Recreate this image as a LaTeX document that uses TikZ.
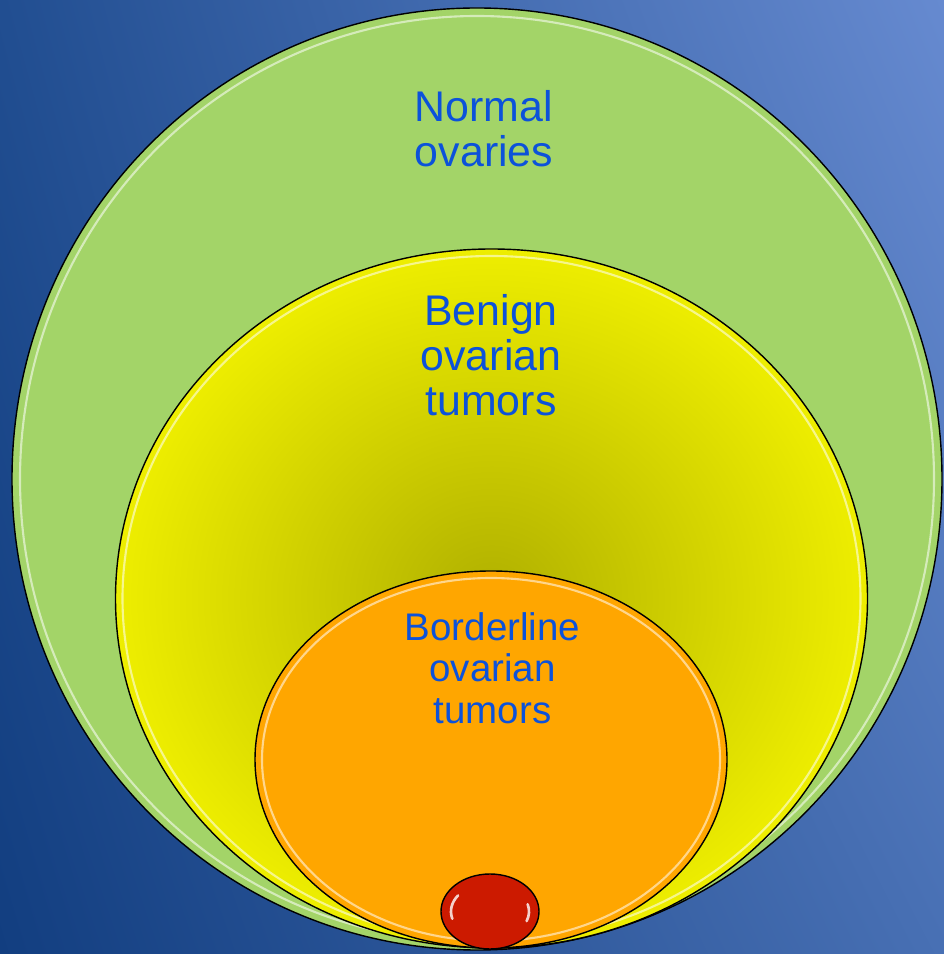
\documentclass[tikz,border=0pt]{standalone}
\usepackage{fontspec}
\setmainfont{Liberation Sans}
\usetikzlibrary{shapes.geometric,shadings}

\definecolor{bgUL}{RGB}{33,78,145}
\definecolor{bgUR}{RGB}{102,138,208}
\definecolor{bgLL}{RGB}{18,62,128}
\definecolor{bgLR}{RGB}{72,112,180}
\definecolor{normalgreen}{RGB}{163,212,104}
\definecolor{benignyellow}{RGB}{238,238,0}
\definecolor{benigndark}{RGB}{176,176,0}
\definecolor{borderorange}{RGB}{255,166,0}
\definecolor{malignred}{RGB}{204,26,0}
\definecolor{labelblue}{RGB}{12,82,218}

\begin{document}
\begin{tikzpicture}[
    zone/.style={draw=black, ellipse, line width=0.8pt, inner sep=0pt, outer sep=0pt},
    rim/.style={draw=white, ellipse, line width=1.2pt, draw opacity=0.55, inner sep=0pt},
    lbl/.style={text=labelblue, align=center, inner sep=0pt, anchor=north}]

% background
\useasboundingbox (0,0) rectangle (18.88,19.08);
\shade[upper left=bgUL, upper right=bgUR, lower left=bgLL, lower right=bgLR]
    (0,0) rectangle (18.88,19.08);

% Normal ovaries
\node[zone, fill=normalgreen, minimum width=18.6cm, minimum height=18.84cm] (normal) at (9.54,9.50) {};
\node[rim, minimum width=18.28cm, minimum height=18.52cm] (normalrim) at (normal.center) {};

% Benign ovarian tumors
\node[zone, inner color=benigndark, outer color=benignyellow, minimum width=15.04cm, minimum height=13.98cm] (benign) at (9.83,7.11) {};
\node[rim, minimum width=14.76cm, minimum height=13.70cm] (benignrim) at (benign.center) {};

% Borderline ovarian tumors
\node[zone, fill=borderorange, minimum width=9.44cm, minimum height=7.54cm] (borderline) at (9.82,3.89) {};
\node[rim, minimum width=9.16cm, minimum height=7.26cm] (borderlinerim) at (borderline.center) {};

% malignant core
\node[zone, fill=malignred, minimum width=1.96cm, minimum height=1.5cm] (malign) at (9.80,0.85) {};
\draw[white, line width=1.5pt, line cap=round, opacity=0.8]
    ([shift={(145:0.78 and 0.56)}]malign.center) arc[start angle=145, end angle=195, x radius=0.78, y radius=0.56];
\draw[white, line width=1.5pt, line cap=round, opacity=0.8]
    ([shift={(-20:0.78 and 0.56)}]malign.center) arc[start angle=-20, end angle=15, x radius=0.78, y radius=0.56];

% labels
\node[lbl, font=\fontsize{24.4pt}{25.6pt}\selectfont] (normaltxt) at (9.68,17.27) {Normal\\ovaries};
\node[lbl, font=\fontsize{24.4pt}{25.6pt}\selectfont] (benigntxt) at (9.82,13.19) {Benign\\ovarian\\tumors};
\node[lbl, font=\fontsize{21.9pt}{23.6pt}\selectfont] (borderlinetxt) at (9.85,6.84) {Borderline\\ovarian\\tumors};
\end{tikzpicture}
\end{document}
